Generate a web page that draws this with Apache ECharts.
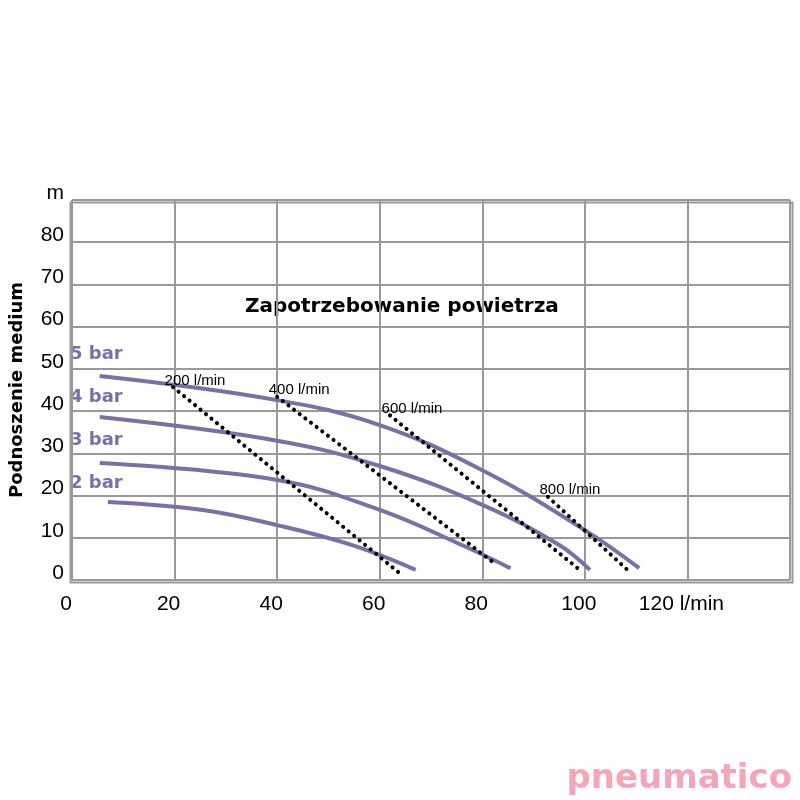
<!DOCTYPE html>
<html style="height: 100%">
<head>
<meta charset="utf-8">
<script src="https://cdn.jsdelivr.net/npm/echarts@6/dist/echarts.min.js"></script>
</head>
<body style="height: 100%; margin: 0; background: #fff">
<div id="container" style="width: 800px; height: 800px"></div>
<script type="text/javascript">
    // performance curves, [flow l/min, head m]
    var bar5 = [[5.4, 48.3], [40, 42.6], [60, 36.7], [80, 26], [100, 11.8], [110.6, 2.8]];
    var bar4 = [[5.4, 38.6], [40, 33], [60, 27], [80, 17.8], [95, 8.3], [101, 2.4]];
    var bar3 = [[5.4, 27.7], [40, 23.7], [60, 16.6], [76, 8.3], [85.5, 2.8]];
    var bar2 = [[7, 18.5], [25.5, 16.6], [40, 13], [54.5, 8.3], [67, 2.4]];
    // air consumption lines
    var air200 = [[19.7, 45.7], [63.8, 1.7]];
    var air400 = [[40, 43.4], [82, 4.3]];
    var air600 = [[62, 39], [99, 2.4]];
    var air800 = [[92.8, 19.7], [108.3, 2.4]];
    var airLabels = ['200 l/min', '400 l/min', '600 l/min', '800 l/min'];
    var barLabels = ['5 bar', '4 bar', '3 bar', '2 bar'];

    var purple = '#7a70a6';
    var myChart = echarts.init(document.getElementById('container'));

    function curve(d) {
        return { type: 'line', data: d, smooth: 0.4, symbol: 'none',
            lineStyle: { color: purple, width: 4 } };
    }
    function dots(d, name) {
        return { type: 'line', data: d, symbol: 'none',
            lineStyle: { color: '#000', width: 4, type: [0.1, 7], cap: 'round' },
            markPoint: { symbol: 'circle', symbolSize: 0,
                data: [{ coord: d[0], label: { show: true, formatter: name, position: 'top',
                    offset: [22, 6], fontSize: 15, color: '#000', fontFamily: 'Liberation Sans' } }] } };
    }

    var option = {
        animation: false,
        grid: { left: 68, right: 10, top: 200, bottom: 220 },
        xAxis: {
            type: 'value', min: 0, max: 140, interval: 20,
            axisLine: { show: false }, axisTick: { show: false },
            splitLine: { lineStyle: { color: '#999', width: 2 } },
            axisLabel: { color: '#000', fontSize: 21, fontFamily: 'Liberation Sans', margin: 14,
                padding: [0, 12, 0, 0],
                formatter: function (v) { return v === 120 ? '120 l/min' : (v === 140 ? '' : v); } }
        },
        yAxis: {
            type: 'value', min: 0, max: 90, interval: 10,
            name: 'Podnoszenie medium', nameLocation: 'middle', nameGap: 46,
            nameTextStyle: { fontSize: 18, fontWeight: 'bold', color: '#000', fontFamily: 'DejaVu Sans' },
            axisLine: { show: false }, axisTick: { show: false },
            splitLine: { lineStyle: { color: '#999', width: 2 } },
            axisLabel: { color: '#000', fontSize: 21, fontFamily: 'Liberation Sans', margin: 8,
                verticalAlign: 'bottom', lineHeight: 14,
                formatter: function (v) { return v === 90 ? 'm' : v; } }
        },
        graphic: [
            { type: 'rect', left: 68, top: 200, shape: { width: 722, height: 380 },
              style: { fill: 'none', stroke: '#999', lineWidth: 2 } },
            { type: 'text', left: 245, top: 297, style: { text: 'Zapotrzebowanie powietrza',
              font: 'bold 20px "DejaVu Sans"', fill: '#000' } },
            { type: 'text', left: 70, top: 345, style: { text: barLabels[0], font: 'bold 18px "DejaVu Sans"', fill: purple } },
            { type: 'text', left: 70, top: 388, style: { text: barLabels[1], font: 'bold 18px "DejaVu Sans"', fill: purple } },
            { type: 'text', left: 70, top: 431, style: { text: barLabels[2], font: 'bold 18px "DejaVu Sans"', fill: purple } },
            { type: 'text', left: 70, top: 474, style: { text: barLabels[3], font: 'bold 18px "DejaVu Sans"', fill: purple } },
            { type: 'text', right: 8, top: 762, style: { text: 'pneumatico', font: 'bold 34px "DejaVu Sans"', fill: '#f4a6b8' } }
        ],
        series: [
            curve(bar5), curve(bar4), curve(bar3), curve(bar2),
            dots(air200, airLabels[0]), dots(air400, airLabels[1]),
            dots(air600, airLabels[2]), dots(air800, airLabels[3])
        ]
    };
    myChart.setOption(option);
</script>
</body>
</html>
